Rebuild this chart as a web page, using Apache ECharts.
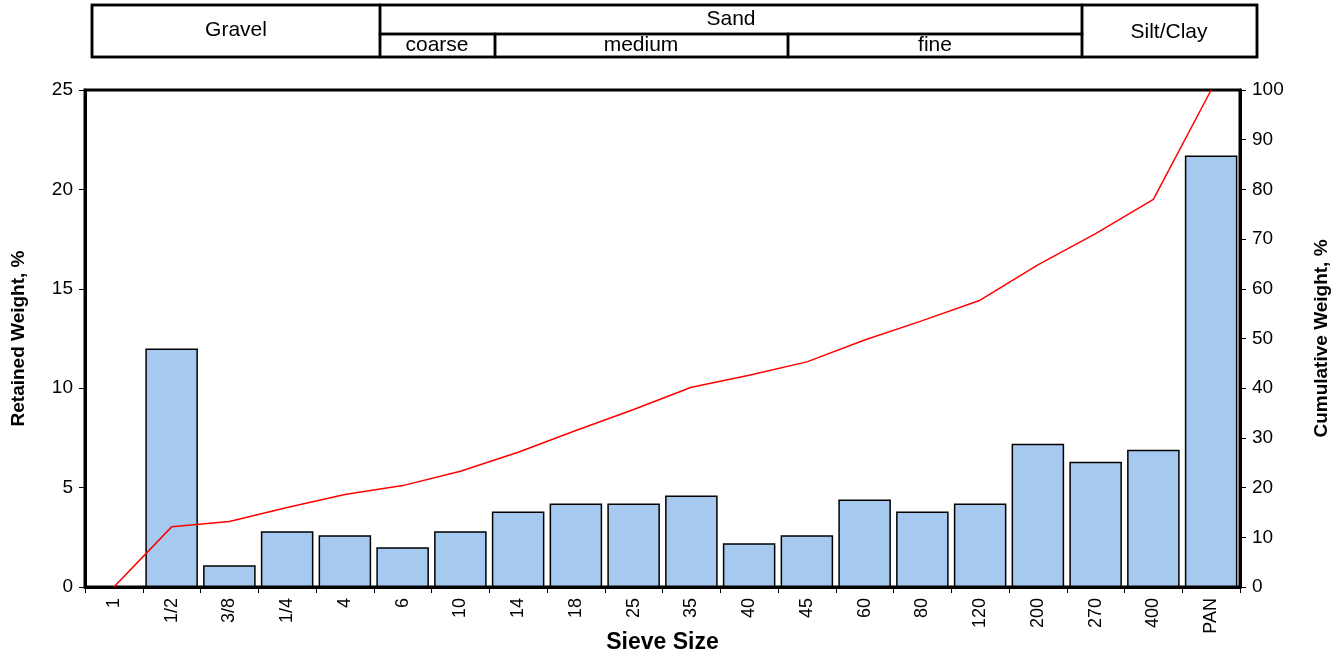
<!DOCTYPE html>
<html>
<head>
<meta charset="UTF-8">
<title>Sieve analysis</title>
<script src="https://cdn.jsdelivr.net/npm/echarts@6/dist/echarts.min.js"></script>
<style>
  html, body { margin: 0; height: 100%; background: #fff; }
  #main { width: 1342px; height: 657px; }
</style>
</head>
<body>
<div id="main"></div>
<script>
// sieve sizes and the two series
var sieves = ['1', '1/2', '3/8', '1/4', '4', '6', '10', '14', '18', '25',
              '35', '40', '45', '60', '80', '120', '200', '270', '400', 'PAN'];
var retained = [0, 12.0, 1.1, 2.8, 2.6, 2.0, 2.8, 3.8, 4.2, 4.2,
                4.6, 2.2, 2.6, 4.4, 3.8, 4.2, 7.2, 6.3, 6.9, 21.7];
var cumulative = [0, 12.1, 13.2, 16.0, 18.6, 20.4, 23.3, 27.1, 31.5, 35.7,
                  40.2, 42.6, 45.3, 49.7, 53.6, 57.7, 64.8, 71.1, 78.0, 100];

var font = 'Liberation Sans, Arial, sans-serif';

// classification strip on top (drawn as graphics)
function cell(x, y, w, h) {
  return { type: 'rect', shape: { x: x, y: y, width: w, height: h },
           style: { fill: 'none', stroke: '#000', lineWidth: 2.5 } };
}
function label(txt, cx, cy) {
  return { type: 'text', x: cx, y: cy,
           style: { text: txt, font: '21px ' + font, fill: '#000', align: 'center', verticalAlign: 'middle' } };
}
var strip = [
  cell(92, 5, 1165, 52),
  cell(92, 5, 288, 52),
  cell(380, 5, 702, 29),
  cell(380, 34, 115, 23),
  cell(495, 34, 293, 23),
  cell(788, 34, 294, 23),
  cell(1082, 5, 175, 52),
  label('Gravel', 236, 30),
  label('Sand', 731, 19),
  label('coarse', 437, 45),
  label('medium', 641, 45),
  label('fine', 935, 45),
  label('Silt/Clay', 1169, 32)
];

var myChart = echarts.init(document.getElementById('main'));
var option = {
  animation: false,
  textStyle: { fontFamily: font },
  graphic: strip,
  grid: {
    left: 85, right: 102, top: 90, bottom: 70,
    outerBoundsMode: 'none',
    containLabel: false,
    show: true, borderColor: '#000', borderWidth: 3, backgroundColor: '#fff'
  },
  xAxis: {
    type: 'category',
    data: sieves,
    name: 'Sieve Size',
    nameLocation: 'middle',
    nameGap: 44,
    nameMoveOverlap: false,
    nameTextStyle: { fontSize: 23, fontWeight: 'bold', color: '#000' },
    axisLine: { lineStyle: { color: '#000', width: 3 } },
    axisTick: { show: true, length: 6, lineStyle: { color: '#000' } },
    axisLabel: { rotate: 90, fontSize: 18, color: '#000', margin: 11 }
  },
  yAxis: [
    {
      type: 'value', min: 0, max: 25, interval: 5,
      name: 'Retained Weight, %',
      nameLocation: 'middle', nameRotate: 90, nameGap: 57,
      nameMoveOverlap: false,
      nameTextStyle: { fontSize: 19, fontWeight: 'bold', color: '#000' },
      axisLine: { show: true, lineStyle: { color: '#000', width: 3 } },
      axisTick: { show: true, length: 6, lineStyle: { color: '#000' } },
      axisLabel: { fontSize: 19, color: '#000', margin: 12 },
      splitLine: { show: false }
    },
    {
      type: 'value', min: 0, max: 100, interval: 10,
      name: 'Cumulative Weight, %',
      nameLocation: 'middle', nameRotate: 90, nameGap: 72,
      nameMoveOverlap: false,
      nameTextStyle: { fontSize: 19, fontWeight: 'bold', color: '#000' },
      axisLine: { show: true, lineStyle: { color: '#000', width: 3 } },
      axisTick: { show: true, length: 6, lineStyle: { color: '#000' } },
      axisLabel: { fontSize: 19, color: '#000', margin: 12 },
      splitLine: { show: false }
    }
  ],
  series: [
    {
      name: 'Retained',
      type: 'bar',
      data: retained,
      barCategoryGap: '9%',
      itemStyle: { color: '#a6c9ef', borderColor: '#000', borderWidth: 1.5 }
    },
    {
      name: 'Cumulative',
      type: 'line',
      yAxisIndex: 1,
      data: cumulative,
      symbol: 'none',
      lineStyle: { color: '#ff0000', width: 1.5 }
    }
  ]
};
myChart.setOption(option);
</script>
</body>
</html>
